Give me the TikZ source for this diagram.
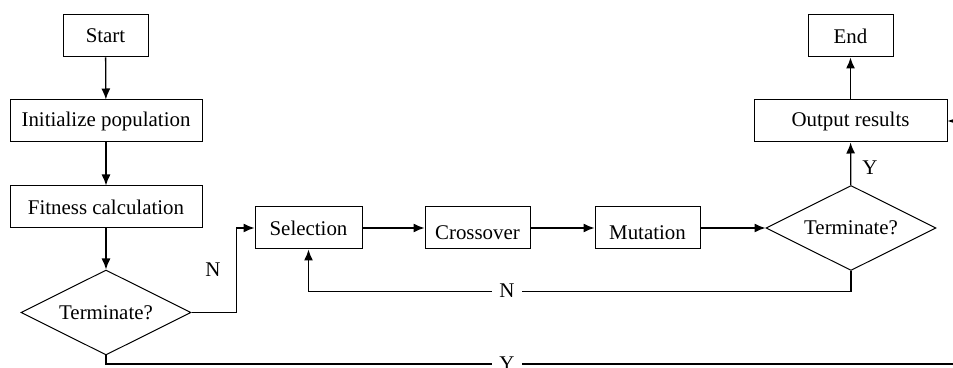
\documentclass[tikz,border=0pt]{standalone}
\usepackage{fontspec}
\setmainfont{Liberation Serif}
\usetikzlibrary{shapes.geometric,arrows.meta,calc}
\tikzset{
  box/.style={draw,line width=0.5pt,rectangle,inner sep=0pt,font=\fontsize{10.45pt}{12pt}\selectfont},
  dec/.style={draw,line width=0.5pt,diamond,aspect=2,inner sep=0pt,minimum width=85pt,minimum height=42.5pt,font=\fontsize{10.45pt}{12pt}\selectfont},
  arr/.style={line width=0.65pt,-{Latex[length=5.5pt,width=4.5pt]}},
  lbl/.style={inner sep=0pt,font=\fontsize{10.45pt}{12pt}\selectfont},
  gap/.style={fill=white,inner xsep=3.5pt,inner ysep=1pt,font=\fontsize{10.45pt}{12pt}\selectfont}
}
\begin{document}
\begin{tikzpicture}[x=0.5pt,y=-0.5pt]
\useasboundingbox (0,0) rectangle (953,368);
\clip (0,0) rectangle (953,368);
\node[box,minimum width=42.5pt,minimum height=21pt] (start) at (105.5,36) {Start};
\node[box,minimum width=96pt,minimum height=21pt] (init) at (106,121) {Initialize population};
\node[box,minimum width=96pt,minimum height=21pt] (fit) at (106,207) {Fitness calculation};
\node[dec] (dec1) at (106,312.5) {Terminate?};
\node[box,minimum width=53.5pt,minimum height=21pt] (sel) at (308.5,228) {Selection};
\node[box,minimum width=52.5pt,minimum height=21pt] (cross) at (477.5,228) {\raisebox{-2.2pt}[\height][\depth]{Crossover}};
\node[box,minimum width=52.5pt,minimum height=21pt] (mut) at (647.5,228) {\raisebox{-2.2pt}[\height][\depth]{Mutation}};
\node[dec] (dec2) at (851,228) {Terminate?};
\node[box,minimum width=96.5pt,minimum height=21pt] (out) at (850.5,121) {Output results};
\node[box,minimum width=42.5pt,minimum height=21pt] (end) at (850.5,36) {End};

\draw[arr] (start) -- (init);
\draw[arr] (init) -- (fit);
\draw[arr] (fit) -- (dec1);
\draw[arr] (dec1.east) -- ++(45,0) |- (sel.west);
\node[lbl] (nlab1) at (213,270) {N};
\draw[arr] (sel) -- (cross);
\draw[arr] (cross) -- (mut);
\draw[arr] (mut) -- (dec2);
\draw[arr] (dec2) -- (out);
\node[lbl] (ylab1) at (870,168) {Y};
\draw[arr] (out) -- (end);
\draw[arr] (dec2.south) |- ($(sel.south)+(0,42)$) -- (sel.south);
\node[gap] (nlab2) at (507,291) {N};
\draw[arr] (dec1.south) |- (985,364) |- (out.east);
\node[gap] (ylab2) at (507,364) {Y};
\end{tikzpicture}
\end{document}
